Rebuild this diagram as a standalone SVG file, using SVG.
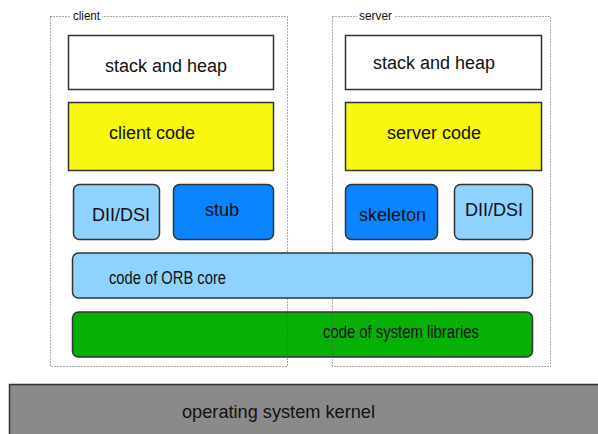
<svg xmlns="http://www.w3.org/2000/svg" width="598" height="434" viewBox="0 0 598 434">
<style>
text{font-family:"Liberation Sans",Arial,sans-serif;fill:#111;}
.t18{font-size:18px;}
.t19{font-size:19px;}
.lbl{font-size:12px;}
.frame{fill:none;stroke:#555;stroke-width:1;stroke-dasharray:1 2;}
.box{stroke:#333;stroke-width:1.5;}
.white{fill:#ffffff;}
.yellow{fill:#f7f70f;}
.light{fill:#8fd1ff;}
.dark{fill:#0a85ff;}
.green{fill:#06b006;}
.gray{fill:#8a8a8a;}
</style>
<rect width="598" height="434" fill="#ffffff"/>
<g id="system-libraries">
<rect class="box green" x="72.5" y="312" width="460" height="45" rx="6"/>
</g>
<g id="frames">
<g id="client">
<rect class="frame" x="50.5" y="16.5" width="237" height="350"/>
<rect x="71" y="10" width="31" height="12" fill="#ffffff"/>
<text class="lbl" x="73" y="20" textLength="27" lengthAdjust="spacingAndGlyphs">client</text>
</g>
<g id="server">
<rect class="frame" x="332.5" y="16.5" width="218" height="350"/>
<rect x="357" y="10" width="37" height="12" fill="#ffffff"/>
<text class="lbl" x="359" y="20" textLength="33" lengthAdjust="spacingAndGlyphs">server</text>
</g>
</g>
<g id="system-libraries-label">
<text class="t18" x="323" y="338" textLength="156" lengthAdjust="spacingAndGlyphs">code of system libraries</text>
</g>
<g id="client-stack">
<rect class="box white" x="68.5" y="35.5" width="205" height="54"/>
<text class="t18" x="105" y="72">stack and heap</text>
</g>
<g id="server-stack">
<rect class="box white" x="345.5" y="35.5" width="196" height="54"/>
<text class="t18" x="373" y="69">stack and heap</text>
</g>
<g id="client-code">
<rect class="box yellow" x="68.5" y="102.5" width="205" height="68"/>
<text class="t18" x="109" y="139">client code</text>
</g>
<g id="server-code">
<rect class="box yellow" x="345.5" y="102.5" width="196" height="68"/>
<text class="t18" x="387" y="139">server code</text>
</g>
<g id="client-dii">
<rect class="box light" x="73.5" y="184.5" width="86" height="55" rx="6"/>
<text class="t18" x="92" y="221">DII/DSI</text>
</g>
<g id="stub">
<rect class="box dark" x="173.5" y="184.5" width="100" height="55" rx="6"/>
<text class="t18" x="205" y="216">stub</text>
</g>
<g id="skeleton">
<rect class="box dark" x="345.5" y="184.5" width="92" height="55" rx="6"/>
<text class="t18" x="359" y="221">skeleton</text>
</g>
<g id="server-dii">
<rect class="box light" x="454.5" y="184.5" width="78" height="55" rx="6"/>
<text class="t18" x="465" y="216">DII/DSI</text>
</g>
<g id="orb-core">
<rect class="box light" x="72.5" y="253" width="460" height="45" rx="6"/>
<text class="t18" x="109" y="284" textLength="117" lengthAdjust="spacingAndGlyphs">code of ORB core</text>
</g>
<g id="kernel">
<rect class="box gray" x="9.5" y="384.5" width="600" height="60"/>
<text class="t19" x="182" y="418" textLength="193" lengthAdjust="spacingAndGlyphs">operating system kernel</text>
</g>
<g id="connectors"/>
</svg>
